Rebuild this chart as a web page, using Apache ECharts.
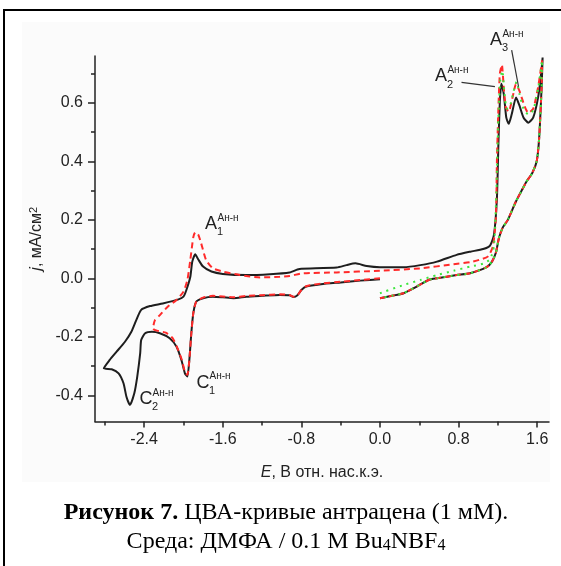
<!DOCTYPE html>
<html>
<head>
<meta charset="utf-8">
<style>
  html, body { margin: 0; padding: 0; background: #fff; }
  #chart { width: 561px; height: 566px; }
</style>
</head>
<body>
<div id="chart"></div>
<script src="https://cdn.jsdelivr.net/npm/echarts@6/dist/echarts.min.js"></script>
<script>
// tick positions
var xMajor = [-2.4, -1.6, -0.8, 0, 0.8, 1.6];
var xMinor = [-2.8, -2.0, -1.2, -0.4, 0.4, 1.2];
var yMajor = [-0.4, -0.2, 0, 0.2, 0.4, 0.6];
var yMinor = [-0.3, -0.1, 0.1, 0.3, 0.5, 0.7];

// E (V), j (mA/cm2)
// black: full scan 0 -> -2.8 -> +1.66 -> 0
var blackScan = [
  [0.0, -0.003], [-0.2, -0.008], [-0.4, -0.014], [-0.6, -0.02], [-0.75, -0.028],
  [-0.80, -0.04], [-0.84, -0.058], [-0.88, -0.064], [-0.92, -0.058], [-1.02, -0.057],
  [-1.2, -0.06], [-1.36, -0.063], [-1.49, -0.068], [-1.6, -0.065], [-1.70, -0.063],
  [-1.80, -0.068], [-1.87, -0.08], [-1.90, -0.12], [-1.92, -0.188], [-1.94, -0.28],
  [-1.96, -0.336], [-1.985, -0.325], [-2.02, -0.28], [-2.07, -0.234], [-2.14, -0.205],
  [-2.24, -0.188], [-2.32, -0.183], [-2.39, -0.188], [-2.43, -0.211], [-2.44, -0.256],
  [-2.47, -0.336], [-2.50, -0.393], [-2.545, -0.433], [-2.58, -0.405], [-2.61, -0.359],
  [-2.66, -0.325], [-2.73, -0.311], [-2.81, -0.308],
  [-2.75, -0.279], [-2.68, -0.251], [-2.595, -0.217], [-2.53, -0.183], [-2.48, -0.143],
  [-2.43, -0.108], [-2.34, -0.095], [-2.21, -0.086], [-2.05, -0.072], [-2.0, -0.063],
  [-1.97, -0.04], [-1.93, 0.005], [-1.91, 0.057], [-1.88, 0.082], [-1.85, 0.065],
  [-1.80, 0.04], [-1.715, 0.023], [-1.6, 0.015], [-1.36, 0.011], [-1.12, 0.014],
  [-0.92, 0.02], [-0.84, 0.03], [-0.80, 0.033], [-0.44, 0.037], [-0.34, 0.045],
  [-0.25, 0.051], [-0.135, 0.042], [0.0, 0.038], [0.24, 0.038], [0.41, 0.045],
  [0.58, 0.057], [0.78, 0.08], [0.92, 0.091], [1.05, 0.10], [1.12, 0.112],
  [1.16, 0.149], [1.19, 0.273], [1.205, 0.458], [1.22, 0.606], [1.235, 0.665],
  [1.26, 0.63], [1.285, 0.55], [1.31, 0.528], [1.34, 0.56], [1.385, 0.618],
  [1.42, 0.59], [1.46, 0.55], [1.51, 0.532], [1.56, 0.55], [1.61, 0.62],
  [1.64, 0.70], [1.655, 0.755]
];
// red: scan reversed at -2.31
var redScan = [
  [0.0, 0.0], [-0.2, -0.006], [-0.4, -0.012], [-0.6, -0.018], [-0.75, -0.027],
  [-0.80, -0.04], [-0.84, -0.058], [-0.88, -0.063], [-0.92, -0.057], [-1.02, -0.055],
  [-1.2, -0.058], [-1.36, -0.06], [-1.49, -0.065], [-1.6, -0.062], [-1.70, -0.06],
  [-1.80, -0.066], [-1.87, -0.08], [-1.90, -0.12], [-1.92, -0.19], [-1.94, -0.28],
  [-1.96, -0.33], [-1.985, -0.32], [-2.02, -0.275], [-2.07, -0.232], [-2.11, -0.205],
  [-2.18, -0.186], [-2.27, -0.179], [-2.31, -0.172],
  [-2.29, -0.143], [-2.24, -0.126], [-2.16, -0.097], [-2.07, -0.074], [-2.0, -0.046],
  [-1.96, -0.006], [-1.93, 0.063], [-1.90, 0.14], [-1.88, 0.157], [-1.85, 0.15],
  [-1.82, 0.12], [-1.77, 0.063], [-1.70, 0.034], [-1.60, 0.023], [-1.425, 0.011],
  [-1.22, 0.003], [-1.02, 0.005], [-0.92, 0.008], [-0.78, 0.017], [-0.44, 0.02],
  [0.0, 0.026], [0.41, 0.034], [0.75, 0.048], [0.92, 0.055], [1.01, 0.063],
  [1.10, 0.075], [1.15, 0.11], [1.18, 0.21], [1.19, 0.40], [1.205, 0.58],
  [1.22, 0.70], [1.24, 0.73], [1.26, 0.65], [1.28, 0.585], [1.31, 0.57],
  [1.35, 0.62], [1.385, 0.665], [1.42, 0.64], [1.47, 0.59], [1.51, 0.565],
  [1.56, 0.58], [1.61, 0.655], [1.65, 0.745]
];
// green: anodic region only
var greenScan = [
  [0.0, -0.051], [0.24, -0.023], [0.41, -0.006], [0.58, 0.011], [0.75, 0.026],
  [0.92, 0.04], [1.05, 0.05], [1.12, 0.065], [1.16, 0.11], [1.185, 0.3],
  [1.205, 0.55], [1.225, 0.68], [1.245, 0.71], [1.265, 0.64], [1.29, 0.58],
  [1.32, 0.585], [1.36, 0.64], [1.39, 0.672], [1.42, 0.63], [1.46, 0.58],
  [1.51, 0.56], [1.56, 0.575], [1.61, 0.65], [1.65, 0.745]
];
// common back scan +1.66 -> 0
var backScan = [
  [1.645, 0.655], [1.62, 0.48], [1.595, 0.40], [1.55, 0.36], [1.49, 0.33],
  [1.45, 0.305], [1.38, 0.26], [1.30, 0.199], [1.25, 0.174], [1.21, 0.137],
  [1.18, 0.088], [1.14, 0.057], [1.085, 0.038], [0.916, 0.017], [0.78, 0.011],
  [0.58, 0.0], [0.50, -0.005], [0.37, -0.029], [0.24, -0.051], [0.12, -0.06],
  [0.0, -0.068]
];

// peak labels: letter, index, letter centre [E, j]
var peakTags = [
  ['A', '1', [-1.72, 0.186]],
  ['A', '2', [0.62, 0.69]],
  ['A', '3', [1.18, 0.815]],
  ['C', '1', [-1.80, -0.357]],
  ['C', '2', [-2.38, -0.414]]
];
var leaderLines = [
  [[0.83, 0.67], [1.17, 0.655]],
  [[1.34, 0.78], [1.41, 0.655]]
];

var ink = '#222';
var sans = 'Liberation Sans, Arial, sans-serif';
var serif = 'Liberation Serif, Times New Roman, serif';

var chart = echarts.init(document.getElementById('chart'));

function lineSeries(data, color, type, z) {
  return {
    type: 'line',
    data: data,
    showSymbol: false,
    smooth: 0.2,
    z: z,
    lineStyle: { color: color, width: 2, type: type },
    silent: true
  };
}

var option = {
  animation: false,
  backgroundColor: '#fff',
  grid: { left: 95, right: 12, top: 56, bottom: 144.4, outerBoundsMode: 'none' },
  xAxis: [
    {
      type: 'value', min: -2.9, max: 1.72,
      axisLine: { onZero: false, lineStyle: { color: ink, width: 1.5 } },
      axisTick: { customValues: xMajor, length: 6, lineStyle: { color: ink, width: 1.5 } },
      axisLabel: {
        customValues: xMajor, margin: 10, color: ink, fontSize: 16, fontFamily: sans,
        formatter: function (v) { return v.toFixed(1); }
      },
      splitLine: { show: false },
      name: '{i|E}, В отн. нас.к.э.',
      nameLocation: 'middle', nameGap: 43,
      nameTextStyle: {
        color: ink, fontSize: 16, fontFamily: sans,
        rich: { i: { fontStyle: 'italic', fontSize: 16, fontFamily: sans, color: ink } }
      }
    },
    {
      type: 'value', min: -2.9, max: 1.72, position: 'bottom',
      axisLine: { show: false, onZero: false },
      axisTick: { customValues: xMinor, length: 4, lineStyle: { color: ink, width: 1.5 } },
      axisLabel: { show: false },
      splitLine: { show: false }
    }
  ],
  yAxis: [
    {
      type: 'value', min: -0.49, max: 0.76,
      axisLine: { show: true, onZero: false, lineStyle: { color: ink, width: 1.5 } },
      axisTick: { show: true, customValues: yMajor, length: 7, lineStyle: { color: ink, width: 1.5 } },
      axisLabel: {
        customValues: yMajor, margin: 12, color: ink, fontSize: 16, fontFamily: sans,
        formatter: function (v) { return v.toFixed(1); }
      },
      splitLine: { show: false },
      name: '{i|j}, мА/см{s|2}',
      nameLocation: 'middle', nameGap: 44,
      nameTextStyle: {
        color: ink, fontSize: 16, fontFamily: sans,
        rich: {
          i: { fontStyle: 'italic', fontSize: 16, fontFamily: sans, color: ink },
          s: { fontSize: 11, fontFamily: sans, color: ink, verticalAlign: 'top' }
        }
      }
    },
    {
      type: 'value', min: -0.49, max: 0.76, position: 'left',
      axisLine: { show: false, onZero: false },
      axisTick: { show: true, customValues: yMinor, length: 4, lineStyle: { color: ink, width: 1.5 } },
      axisLabel: { show: false },
      splitLine: { show: false }
    }
  ],
  series: [
    lineSeries(blackScan.concat(backScan), '#1e1e1e', 'solid', 2),
    lineSeries(redScan.concat(backScan), '#ff2a2a', [6, 4], 3),
    lineSeries(greenScan.concat(backScan), '#3ce63c', [2, 5], 4)
  ]
};
chart.setOption(option);

// decorations, placed through the axes after layout
var gfx = [
  { type: 'rect', z: -10, silent: true, shape: { x: 22, y: 22, width: 528, height: 460 }, style: { fill: '#fbfbfb' } },
  { type: 'rect', z: 50, silent: true, shape: { x: 550, y: 12, width: 11, height: 554 }, style: { fill: '#fff' } },
  { type: 'line', z: 60, silent: true, shape: { x1: 4, y1: 10, x2: 561, y2: 10 }, style: { stroke: '#000', lineWidth: 2 } },
  { type: 'line', z: 60, silent: true, shape: { x1: 4, y1: 9, x2: 4, y2: 566 }, style: { stroke: '#000', lineWidth: 2 } },
  {
    type: 'text', z: 60, x: 286, y: 512.5,
    style: {
      text: '{b|Рисунок 7.} ЦВА-кривые антрацена (1 мМ).',
      align: 'center', verticalAlign: 'middle',
      fontSize: 24, fontFamily: serif, fill: '#000',
      rich: { b: { fontWeight: 'bold', fontSize: 24, fontFamily: serif, fill: '#000' } }
    }
  },
  {
    type: 'text', z: 60, x: 286, y: 541.5,
    style: {
      text: 'Среда: ДМФА / 0.1 М Bu{s|4}NBF{s|4}',
      align: 'center', verticalAlign: 'middle',
      fontSize: 24, fontFamily: serif, fill: '#000',
      rich: { s: { fontSize: 16, fontFamily: serif, fill: '#000', verticalAlign: 'bottom' } }
    }
  }
];

peakTags.forEach(function (t) {
  var p = chart.convertToPixel({ xAxisIndex: 0, yAxisIndex: 0 }, t[2]);
  gfx.push({ type: 'text', z: 60, x: p[0], y: p[1], style: { text: t[0], align: 'center', verticalAlign: 'middle', fontSize: 18, fontFamily: sans, fill: ink } });
  gfx.push({ type: 'text', z: 60, x: p[0] + 6.5, y: p[1] - 6, style: { text: 'Ан-н', align: 'left', verticalAlign: 'middle', fontSize: 10, fontFamily: sans, fill: ink } });
  gfx.push({ type: 'text', z: 60, x: p[0] + 6, y: p[1] + 8, style: { text: t[1], align: 'left', verticalAlign: 'middle', fontSize: 11, fontFamily: sans, fill: ink } });
});
leaderLines.forEach(function (l) {
  var a = chart.convertToPixel({ xAxisIndex: 0, yAxisIndex: 0 }, l[0]);
  var b = chart.convertToPixel({ xAxisIndex: 0, yAxisIndex: 0 }, l[1]);
  gfx.push({ type: 'line', z: 60, silent: true, shape: { x1: a[0], y1: a[1], x2: b[0], y2: b[1] }, style: { stroke: '#333', lineWidth: 1.2 } });
});

chart.setOption({ graphic: gfx });
</script>
</body>
</html>
